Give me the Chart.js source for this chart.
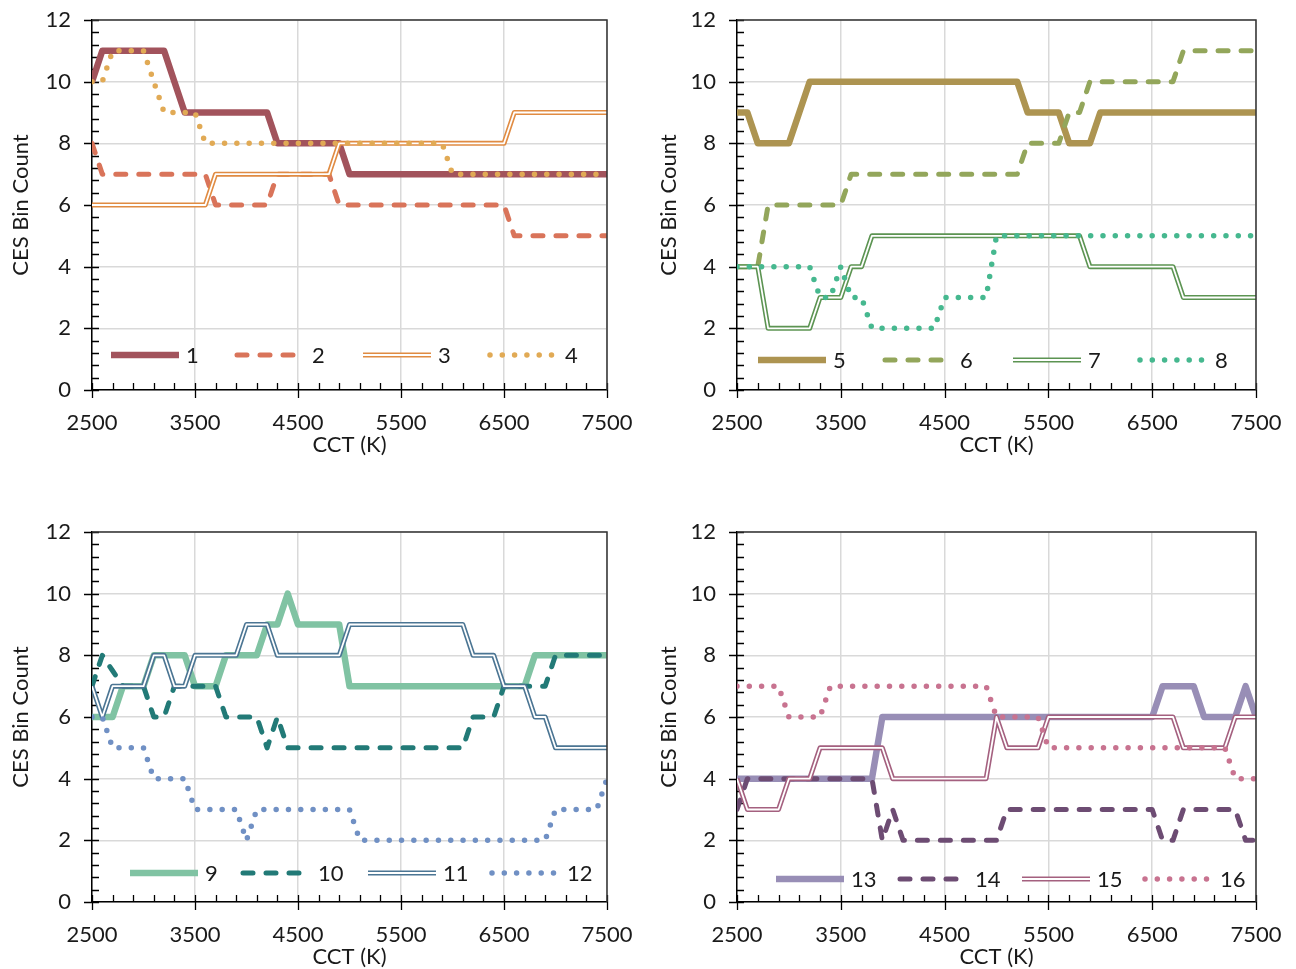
<!DOCTYPE html>
<html lang="en">
<head>
<meta charset="utf-8">
<title>CES Bin Count vs CCT</title>
<script src="https://cdn.jsdelivr.net/npm/chart.js@4.4.1/dist/chart.umd.min.js"></script>
<style>
  html, body { margin: 0; padding: 0; background: #fff; }
  .panel { position: absolute; width: 648px; height: 484px; }
  .panel canvas { display: block; }
</style>
</head>
<body>
<div class="panel" style="left:0;top:0"><canvas id="p1" width="648" height="484"></canvas></div>
<div class="panel" style="left:648px;top:0"><canvas id="p2" width="648" height="484"></canvas></div>
<div class="panel" style="left:0;top:512px"><canvas id="p3" width="648" height="484"></canvas></div>
<div class="panel" style="left:648px;top:512px"><canvas id="p4" width="648" height="484"></canvas></div>
<script>
// ===== DATA =====
const cct = [2500, 2600, 2700, 2800, 2900, 3000, 3100, 3200, 3300, 3400,
  3500, 3600, 3700, 3800, 3900, 4000, 4100, 4200, 4300, 4400,
  4500, 4600, 4700, 4800, 4900, 5000, 5100, 5200, 5300, 5400,
  5500, 5600, 5700, 5800, 5900, 6000, 6100, 6200, 6300, 6400,
  6500, 6600, 6700, 6800, 6900, 7000, 7100, 7200, 7300, 7400, 7500];
const xTicks = [2500, 3500, 4500, 5500, 6500, 7500];
const xTickLabels = ['2500', '3500', '4500', '5500', '6500', '7500'];
const yTicks = [0, 2, 4, 6, 8, 10, 12];
const yTickLabels = ['0', '2', '4', '6', '8', '10', '12'];

const s1 = [10, 11, 11, 11, 11, 11, 11, 11, 10, 9, 9, 9, 9, 9, 9, 9, 9, 9, 8, 8,
  8, 8, 8, 8, 8, 7, 7, 7, 7, 7, 7, 7, 7, 7, 7, 7, 7, 7, 7, 7, 7, 7, 7, 7, 7, 7, 7, 7, 7, 7, 7];
const s2 = [8, 7, 7, 7, 7, 7, 7, 7, 7, 7, 7, 7, 6, 6, 6, 6, 6, 6, 7, 7,
  7, 7, 7, 7, 6, 6, 6, 6, 6, 6, 6, 6, 6, 6, 6, 6, 6, 6, 6, 6, 6, 5, 5, 5, 5, 5, 5, 5, 5, 5, 5];
const s3 = [6, 6, 6, 6, 6, 6, 6, 6, 6, 6, 6, 6, 7, 7, 7, 7, 7, 7, 7, 7,
  7, 7, 7, 7, 8, 8, 8, 8, 8, 8, 8, 8, 8, 8, 8, 8, 8, 8, 8, 8, 8, 9, 9, 9, 9, 9, 9, 9, 9, 9, 9];
const s4 = [10, 10, 11, 11, 11, 11, 10, 9, 9, 9, 9, 8, 8, 8, 8, 8, 8, 8, 8, 8,
  8, 8, 8, 8, 8, 8, 8, 8, 8, 8, 8, 8, 8, 8, 8, 7, 7, 7, 7, 7, 7, 7, 7, 7, 7, 7, 7, 7, 7, 7, 7];

const s5 = [9, 9, 8, 8, 8, 8, 9, 10, 10, 10, 10, 10, 10, 10, 10, 10, 10, 10, 10, 10,
  10, 10, 10, 10, 10, 10, 10, 10, 9, 9, 9, 9, 8, 8, 8, 9, 9, 9, 9, 9, 9, 9, 9, 9, 9, 9, 9, 9, 9, 9, 9];
const s6 = [4, 4, 4, 6, 6, 6, 6, 6, 6, 6, 6, 7, 7, 7, 7, 7, 7, 7, 7, 7,
  7, 7, 7, 7, 7, 7, 7, 7, 8, 8, 8, 8, 9, 9, 10, 10, 10, 10, 10, 10, 10, 10, 10, 11, 11, 11, 11, 11, 11, 11, 11];
const s7 = [4, 4, 4, 2, 2, 2, 2, 2, 3, 3, 3, 4, 4, 5, 5, 5, 5, 5, 5, 5,
  5, 5, 5, 5, 5, 5, 5, 5, 5, 5, 5, 5, 5, 5, 4, 4, 4, 4, 4, 4, 4, 4, 4, 3, 3, 3, 3, 3, 3, 3, 3];
const s8 = [4, 4, 4, 4, 4, 4, 4, 4, 3, 3, 4, 3, 3, 2, 2, 2, 2, 2, 2, 2,
  3, 3, 3, 3, 3, 5, 5, 5, 5, 5, 5, 5, 5, 5, 5, 5, 5, 5, 5, 5, 5, 5, 5, 5, 5, 5, 5, 5, 5, 5, 5];

const s9 = [6, 6, 6, 7, 7, 7, 8, 8, 8, 8, 7, 7, 7, 8, 8, 8, 8, 9, 9, 10,
  9, 9, 9, 9, 9, 7, 7, 7, 7, 7, 7, 7, 7, 7, 7, 7, 7, 7, 7, 7, 7, 7, 7, 8, 8, 8, 8, 8, 8, 8, 8];
const s10 = [7, 8, 7.5, 7, 7, 7, 6, 6, 7, 7, 7, 7, 7, 6, 6, 6, 6, 5, 6, 5,
  5, 5, 5, 5, 5, 5, 5, 5, 5, 5, 5, 5, 5, 5, 5, 5, 5, 6, 6, 6, 7, 7, 7, 7, 7, 8, 8, 8, 8, 8, 8];
const s11 = [7, 6, 7, 7, 7, 7, 8, 8, 7, 7, 8, 8, 8, 8, 8, 9, 9, 9, 8, 8,
  8, 8, 8, 8, 8, 9, 9, 9, 9, 9, 9, 9, 9, 9, 9, 9, 9, 8, 8, 8, 7, 7, 7, 6, 6, 5, 5, 5, 5, 5, 5];
const s12 = [6, 6, 5, 5, 5, 5, 4, 4, 4, 4, 3, 3, 3, 3, 3, 2, 3, 3, 3, 3,
  3, 3, 3, 3, 3, 3, 2, 2, 2, 2, 2, 2, 2, 2, 2, 2, 2, 2, 2, 2, 2, 2, 2, 2, 2, 3, 3, 3, 3, 3, 4];

const s13 = [4, 4, 4, 4, 4, 4, 4, 4, 4, 4, 4, 4, 4, 4, 6, 6, 6, 6, 6, 6,
  6, 6, 6, 6, 6, 6, 6, 6, 6, 6, 6, 6, 6, 6, 6, 6, 6, 6, 6, 6, 6, 7, 7, 7, 7, 6, 6, 6, 6, 7, 6];
const s14 = [3, 4, 4, 4, 4, 4, 4, 4, 4, 4, 4, 4, 4, 4, 2, 3, 2, 2, 2, 2,
  2, 2, 2, 2, 2, 2, 3, 3, 3, 3, 3, 3, 3, 3, 3, 3, 3, 3, 3, 3, 3, 2, 2, 3, 3, 3, 3, 3, 3, 2, 2];
const s15 = [4, 3, 3, 3, 3, 4, 4, 4, 5, 5, 5, 5, 5, 5, 5, 4, 4, 4, 4, 4,
  4, 4, 4, 4, 4, 6, 5, 5, 5, 5, 6, 6, 6, 6, 6, 6, 6, 6, 6, 6, 6, 6, 6, 5, 5, 5, 5, 5, 6, 6, 6];
const s16 = [7, 7, 7, 7, 7, 6, 6, 6, 6, 7, 7, 7, 7, 7, 7, 7, 7, 7, 7, 7,
  7, 7, 7, 7, 7, 6, 6, 6, 6, 6, 5, 5, 5, 5, 5, 5, 5, 5, 5, 5, 5, 5, 5, 5, 5, 5, 5, 5, 4, 4, 4];

// ===== ESTILOS =====
Chart.defaults.font.family = 'Lato, "Open Sans", sans-serif';
Chart.defaults.color = '#1a1a1a';

const lineKinds = {
  solid: { borderWidth: 6.5, borderDash: [], borderCapStyle: 'butt' },
  dash: { borderWidth: 5, borderDash: [10, 13], borderCapStyle: 'round' },
  dot: { borderWidth: 5.5, borderDash: [0, 12.3], borderCapStyle: 'round' },
  double: { borderWidth: 5, borderDash: [], borderCapStyle: 'butt' }
};

const panels = [
  { id: 'p1', areaLeft: 92, areaRight: 607, legendY: 355, legendX: [186, 312, 438, 565],
    series: [
      { label: '1', data: s1, color: '#a2535c', kind: 'solid' },
      { label: '2', data: s2, color: '#d9745a', kind: 'dash' },
      { label: '3', data: s3, color: '#e08b42', kind: 'double' },
      { label: '4', data: s4, color: '#e1aa55', kind: 'dot' }
    ] },
  { id: 'p2', areaLeft: 89, areaRight: 608, legendY: 360, legendX: [185, 312, 440, 567],
    series: [
      { label: '5', data: s5, color: '#ad9451', kind: 'solid' },
      { label: '6', data: s6, color: '#93a65b', kind: 'dash' },
      { label: '7', data: s7, color: '#5c9452', kind: 'double' },
      { label: '8', data: s8, color: '#46b88f', kind: 'dot' }
    ] },
  { id: 'p3', areaLeft: 92, areaRight: 607, legendY: 361, legendX: [205, 318, 443, 567],
    series: [
      { label: '9', data: s9, color: '#80c3a3', kind: 'solid' },
      { label: '10', data: s10, color: '#227a77', kind: 'dash' },
      { label: '11', data: s11, color: '#4b7593', kind: 'double' },
      { label: '12', data: s12, color: '#7090c4', kind: 'dot' }
    ] },
  { id: 'p4', areaLeft: 89, areaRight: 608, legendY: 367, legendX: [203, 327, 449, 572],
    series: [
      { label: '13', data: s13, color: '#988eb6', kind: 'solid' },
      { label: '14', data: s14, color: '#6d4c73', kind: 'dash' },
      { label: '15', data: s15, color: '#a4607f', kind: 'double' },
      { label: '16', data: s16, color: '#c87390', kind: 'dot' }
    ] }
];

// ===== PLUGINS =====
// marcas menores dos eixos e moldura superior/direita
const axisMarks = {
  id: 'axisMarks',
  beforeDatasetsDraw(chart) {
    const { ctx, chartArea: a, scales: { x, y } } = chart;
    ctx.save();
    ctx.strokeStyle = '#000';
    ctx.lineWidth = 1.3;
    ctx.beginPath();
    for (let i = 0; i <= 30; i++) {
      const py = Math.round(y.getPixelForValue(i * 0.4)) + 0.5;
      ctx.moveTo(a.left - (i % 5 === 0 ? 8 : 0), py);
      ctx.lineTo(a.left + 7, py);
    }
    for (let i = 0; i <= 25; i++) {
      const px = Math.round(x.getPixelForValue(2500 + i * 200)) + 0.5;
      ctx.moveTo(px, a.bottom + (i % 5 === 0 ? 8 : 0));
      ctx.lineTo(px, a.bottom - 7);
    }
    ctx.stroke();
    ctx.restore();
  },
  afterDatasetsDraw(chart) {
    const { ctx, chartArea: a } = chart;
    ctx.save();
    ctx.strokeStyle = '#333';
    ctx.lineWidth = 1.5;
    ctx.beginPath();
    ctx.moveTo(a.left, a.top);
    ctx.lineTo(a.right, a.top);
    ctx.lineTo(a.right, a.bottom);
    ctx.stroke();
    ctx.restore();
  }
};

// legenda dentro da área do gráfico
const insideLegend = {
  id: 'insideLegend',
  afterDatasetsDraw(chart, args, opts) {
    const { ctx } = chart;
    const sets = chart.data.datasets;
    let item = 0;
    sets.forEach((ds, i) => {
      if (ds.isInner) return;
      const lx = opts.xs[item++];
      const x0 = lx - 75, x1 = lx - 7, yy = opts.y;
      const layers = [ds];
      if (sets[i + 1] && sets[i + 1].isInner) layers.push(sets[i + 1]);
      layers.forEach(l => {
        ctx.save();
        ctx.strokeStyle = l.borderColor;
        ctx.lineWidth = l.borderWidth;
        ctx.lineCap = l.borderCapStyle || 'butt';
        ctx.setLineDash(l.borderDash || []);
        ctx.beginPath();
        ctx.moveTo(x0, yy);
        ctx.lineTo(x1, yy);
        ctx.stroke();
        ctx.restore();
      });
      ctx.save();
      ctx.font = '22px Lato, "Open Sans", sans-serif';
      ctx.fillStyle = '#1a1a1a';
      ctx.textBaseline = 'middle';
      ctx.fillText(ds.label, lx, yy + 1);
      ctx.restore();
    });
  }
};

// ===== GRÁFICOS =====
function buildDatasets(series) {
  const out = [];
  series.forEach((s, k) => {
    const pts = cct.map((x, i) => ({ x: x, y: s.data[i] }));
    out.push(Object.assign({
      label: s.label,
      data: pts,
      borderColor: s.color,
      borderJoinStyle: 'round',
      pointRadius: 0,
      tension: 0,
      order: 10 - 2 * k
    }, lineKinds[s.kind]));
    if (s.kind === 'double') {
      out.push({
        label: '',
        isInner: true,
        data: pts,
        borderColor: '#ffffff',
        borderWidth: 1.8,
        borderJoinStyle: 'round',
        pointRadius: 0,
        tension: 0,
        order: 10 - 2 * k - 1
      });
    }
  });
  return out;
}

function noEdgePadding(s) {
  s.paddingTop = 0;
  s.paddingBottom = 0;
  s.paddingLeft = 0;
  s.paddingRight = 0;
}

panels.forEach(p => {
  new Chart(document.getElementById(p.id), {
    type: 'line',
    data: { datasets: buildDatasets(p.series) },
    options: {
      responsive: false,
      animation: false,
      events: [],
      layout: { padding: { left: 0, top: 20, right: 648 - p.areaRight, bottom: 0 } },
      plugins: {
        legend: { display: false },
        tooltip: { enabled: false },
        insideLegend: { xs: p.legendX, y: p.legendY }
      },
      scales: {
        x: {
          type: 'linear',
          min: 2500,
          max: 7500,
          afterBuildTicks: s => { s.ticks = xTicks.map(v => ({ value: v })); },
          afterFit: s => { s.height = 94; noEdgePadding(s); },
          grid: { color: '#d9d9d9', lineWidth: 1.5, drawTicks: false },
          border: { color: '#000', width: 1.5 },
          ticks: {
            padding: 20,
            maxRotation: 0,
            font: { size: 22 },
            callback: (v, i) => xTickLabels[i]
          },
          title: { display: true, text: 'CCT (K)', font: { size: 22 }, padding: { top: 0, bottom: 26 } }
        },
        y: {
          min: 0,
          max: 12,
          afterBuildTicks: s => { s.ticks = yTicks.map(v => ({ value: v })); },
          afterFit: s => { s.width = p.areaLeft; noEdgePadding(s); },
          grid: { color: '#d9d9d9', lineWidth: 1.5, drawTicks: false },
          border: { color: '#000', width: 1.5 },
          ticks: {
            padding: 21,
            font: { size: 22 },
            callback: (v, i) => yTickLabels[i]
          },
          title: { display: true, text: 'CES Bin Count', font: { size: 22 }, padding: { top: 8, bottom: 0 } }
        }
      }
    },
    plugins: [axisMarks, insideLegend]
  });
});
</script>
</body>
</html>
